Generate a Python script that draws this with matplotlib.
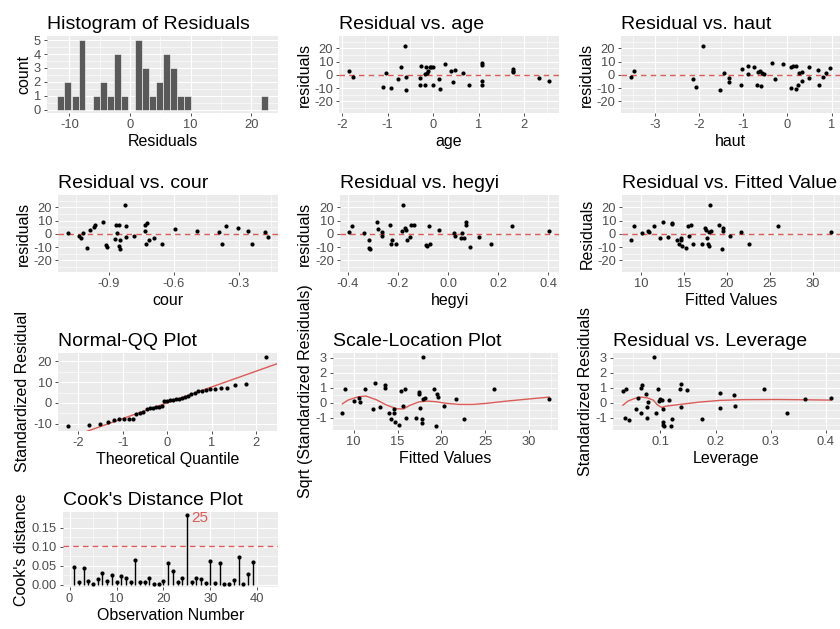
import statistics
import numpy as np
import matplotlib
matplotlib.use('Agg')
import matplotlib.pyplot as plt
from matplotlib.ticker import FixedLocator

plt.rcParams['font.family'] = ['Liberation Sans', 'DejaVu Sans']
plt.rcParams['axes.unicode_minus'] = False

residuals = [-11.4, -10.6, -10.1, -9.3, -8.4, -8.0, -7.9, -7.7, -7.6, -5.4,
             -4.8, -4.3, -3.0, -2.7, -2.4, -2.0, -1.8, -1.5, 0.9, 1.1,
             1.3, 1.5, 1.7, 2.0, 2.4, 2.8, 3.5, 4.3, 4.8, 5.6,
             5.9, 6.2, 6.5, 6.7, 7.0, 7.3, 8.5, 9.2, 22.1]

# residual vs age
age_x = [-1.84, -1.76, -1.10, -1.03, -0.92, -0.77, -0.70, -0.62, -0.59, -0.59,
         -0.29, -0.29, -0.26, -0.18, -0.17, -0.13, -0.15, -0.11, -0.07, -0.04,
         0.0, -0.01, 0.13, 0.16, 0.26, 0.40, 0.44, 0.49, 0.66, 0.78,
         1.07, 1.07, 1.07, 1.07, 1.75, 1.75, 1.76, 2.33, 2.55]
age_y = [3.25, -1.75, -9.5, 1.75, -9.75, -3, 6.25, 22, -1.75, -11.25,
         -2.5, -8, 6.75, -8, 0.75, 1.75, 5.75, 2.75, 5.75, 6.25,
         -7.75, 5.75, -3, -10.75, 8.5, 2.75, -5.5, 3.75, 1.75, -7.75,
         9.25, 7.25, -4.75, -7.75, 4.5, 2, 3.25, -2.5, -4.5]

# residual vs haut
haut_x = [-3.55, -3.48, -2.15, -2.08, -1.92, -1.53, -1.43, -1.32, -1.32, -1.06,
          -1.03, -0.89, -0.89, -0.75, -0.70, -0.66, -0.63, -0.60, -0.57, -0.52,
          -0.35, -0.28, -0.10, 0.07, 0.08, 0.13, 0.19, 0.19, 0.23, 0.26,
          0.32, 0.33, 0.48, 0.48, 0.69, 0.72, 0.81, 0.87, 0.97]
haut_y = [-1.75, 3.25, -3, -9.5, 22, -11.25, 1.25, -2.25, -5.25, -7.75,
          4.25, 6.75, 0.75, 6, -7.75, 2.25, 2.75, -8.25, 1.75, 0.75,
          9.25, -3, 8.5, -9.75, 5.75, 6.75, 6.5, -10.75, -8, 1.25,
          2, -5, 6.25, -2.75, 3.75, -8, -1.75, 1.75, 5.5]

# residual vs cour
cour_x = [-1.087, -1.037, -1.027, -1.018, -1.0, -0.987, -0.969, -0.963, -0.926, -0.911,
          -0.908, -0.871, -0.865, -0.862, -0.852, -0.852, -0.849, -0.846, -0.823, -0.822,
          -0.819, -0.785, -0.731, -0.731, -0.724, -0.730, -0.714, -0.693, -0.653, -0.593,
          -0.493, -0.392, -0.377, -0.358, -0.303, -0.256, -0.242, -0.182, -0.167]
cour_y = [1, -2, -3, 1, -10.5, 3.25, 5.5, 6.5, 9.25, -8.75,
          -9.75, -4.25, 6.75, 1, 6.75, -9.5, -5, -11.25, 22, -2.5,
          6, -1.75, 2.5, 7, 8, -8, -5, -3, -7.75, 3.75,
          2.5, 1.5, -7.5, 6, 4.25, 2, -7.75, 1.5, -2.5]

# residual vs hegyi
hegyi_x = [-0.394, -0.383, -0.336, -0.317, -0.314, -0.312, -0.285, -0.281, -0.264, -0.263,
           -0.232, -0.226, -0.222, -0.208, -0.184, -0.179, -0.171, -0.168, -0.163, -0.153,
           -0.149, -0.137, -0.089, -0.084, -0.078, -0.073, -0.037, 0.023, 0.028, 0.054,
           0.052, 0.065, 0.070, 0.073, 0.089, 0.123, 0.171, 0.253, 0.402]
hegyi_y = [1.75, 6, 1, -4.5, -10.5, -11.5, 9.25, 4, 1.75, -1.75,
           6.5, -7.5, -5, -7.75, 2.5, 22, 4.25, 3, -4.5, -2.5,
           7, 6.75, -8.5, -9.5, 6.25, -8, 3.25, 1, -1.75, 0.75,
           -3, -3, 8.75, 6.5, -10, -2.5, -7.75, 5.75, 2]

# residual vs fitted values
fitted_x = [8.80, 9.18, 10.12, 10.74, 10.89, 11.44, 12.21, 12.52, 13.07, 13.61,
            13.61, 14.16, 14.39, 14.62, 14.62, 14.78, 15.17, 15.40, 15.63, 15.86,
            16.02, 17.11, 17.46, 17.53, 17.65, 17.84, 17.88, 17.96, 18.04, 18.12,
            19.13, 19.44, 19.51, 19.59, 20.37, 21.61, 22.54, 25.92, 32.10]
fitted_y = [-4.5, 5.75, 1, 2, 1.25, 6.25, -3, 9.25, -2.5, 8.25,
            7.5, -5, -8, -3, -5, -9.5, -10.5, 5.75, -1.75, 6.5,
            -7.5, -7.75, 4.5, 3, -3, -7.5, -9.5, 1.5, 22, 2.5,
            6.5, -11.5, 4.25, 2.5, -2, 1.5, -8, 6, 1.5]

# scale-location
sl_x = [8.71, 9.05, 10.0, 10.61, 10.76, 11.29, 12.2, 12.4, 12.97, 13.54,
        13.57, 14.03, 14.30, 14.56, 14.68, 14.6, 15.13, 15.44, 15.63, 15.82,
        15.93, 17.07, 17.41, 17.45, 17.53, 17.83, 17.83, 17.91, 17.91, 18.1,
        19.13, 19.35, 19.54, 19.62, 20.27, 21.71, 22.55, 25.97, 32.28]
sl_y = [-0.71, 0.91, 0.13, 0.33, 0.07, 0.91, -0.4, 1.33, -0.31, 1.18,
        0.96, -0.67, -1.09, -0.71, -1.31, -0.44, -1.49, 0.78, -0.22, 0.91,
        -1.04, -1.04, 0.69, 0.56, -0.38, -1.09, -1.38, 3.07, 0.24, 0.33,
        0.91, -1.58, 0.56, 0.38, -0.22, 0.22, -1.09, 0.89, 0.24]
sl_smooth_x = [8.71, 9.35, 10.5, 11.4, 12.6, 13.7, 14.9, 15.7, 16.4, 17.5,
               18.5, 19.4, 20.6, 22.1, 23.6, 25.1, 27.4, 29.7, 32.3]
sl_smooth_y = [-0.07, 0.18, 0.40, 0.45, 0.20, -0.14, -0.40, -0.41, -0.17, 0.07,
               0.11, 0.07, -0.04, -0.11, -0.11, -0.04, 0.11, 0.24, 0.38]

# residual vs leverage
lev_x = [0.032, 0.038, 0.036, 0.043, 0.056, 0.059, 0.064, 0.067, 0.065, 0.075,
         0.073, 0.076, 0.078, 0.088, 0.092, 0.096, 0.098, 0.100, 0.102, 0.105,
         0.105, 0.105, 0.106, 0.115, 0.119, 0.121, 0.136, 0.137, 0.138, 0.149,
         0.176, 0.208, 0.209, 0.233, 0.235, 0.288, 0.329, 0.362, 0.409]
lev_y = [0.8, 0.91, -1.04, -1.13, -0.4, 0.33, 0.96, 1.18, -0.67, -1.04,
         0.56, -0.31, 0.07, 3.07, -0.71, 0.93, 0.13, 0.22, 0.18, -0.42,
         -1.31, -1.49, -1.58, 0.16, -1.53, -1.11, 0.91, 1.29, -0.27, 0.87,
         -1.11, 0.67, -0.36, 0.51, -0.24, 0.89, -0.71, 0.24, 0.33]
lev_smooth_x = [0.032, 0.041, 0.053, 0.065, 0.076, 0.087, 0.094, 0.102, 0.111, 0.135,
                0.172, 0.208, 0.25, 0.311, 0.365, 0.409]
lev_smooth_y = [-0.16, 0.11, 0.29, 0.38, 0.33, 0.18, -0.12, -0.31, -0.22, -0.11,
                0.05, 0.16, 0.21, 0.22, 0.20, 0.18]

# cook's distance per observation
cooks = [0.046, 0.007, 0.045, 0.009, 0.003, 0.015, 0.030, 0.009, 0.026, 0.006,
         0.022, 0.019, 0.008, 0.064, 0.006, 0.006, 0.019, 0.003, 0.003, 0.009,
         0.057, 0.037, 0.006, 0.017, 0.183, 0.006, 0.019, 0.015, 0.004, 0.063,
         0.004, 0.057, 0.003, 0.003, 0.013, 0.072, 0.003, 0.029, 0.059]

RED = '#DA5B57'
BG = '#EBEBEB'
TICK_COL = '#4D4D4D'

fig = plt.figure(figsize=(8.4, 6.29), dpi=100)
W, H = 840.0, 629.0


def panel(x0, y0, x1, y1):
    return fig.add_axes([x0 / W, 1 - y1 / H, (x1 - x0) / W, (y1 - y0) / H])


def style(ax, title, xlabel, ylabel, xt, xl, yt, yl, xlim, ylim):
    ax.set_facecolor(BG)
    for s in ax.spines.values():
        s.set_visible(False)
    ax.set_xlim(xlim)
    ax.set_ylim(ylim)
    ax.xaxis.set_major_locator(FixedLocator(xt))
    ax.set_xticklabels(xl)
    ax.yaxis.set_major_locator(FixedLocator(yt))
    ax.set_yticklabels(yl)
    # minor grid halfway between the major breaks
    xm = [(a + b) / 2 for a, b in zip(xt[:-1], xt[1:])]
    step = xt[1] - xt[0]
    xm = [xt[0] - step / 2] + xm + [xt[-1] + step / 2]
    ym = [(a + b) / 2 for a, b in zip(yt[:-1], yt[1:])]
    step = yt[1] - yt[0]
    ym = [yt[0] - step / 2] + ym + [yt[-1] + step / 2]
    ax.xaxis.set_minor_locator(FixedLocator(xm))
    ax.yaxis.set_minor_locator(FixedLocator(ym))
    ax.grid(which='major', color='white', linewidth=0.85)
    ax.grid(which='minor', color='white', linewidth=0.4)
    ax.set_axisbelow(True)
    ax.tick_params(which='major', length=2.5, width=0.6, color='#333333',
                   labelsize=9.3, labelcolor=TICK_COL, pad=1.8)
    ax.tick_params(which='minor', length=0)
    ax.set_title(title, loc='left', fontsize=14, pad=5)
    ax.set_xlabel(xlabel, fontsize=11.5, labelpad=2)
    ax.set_ylabel(ylabel, fontsize=11.5, labelpad=2)


def hline(ax, y):
    ax.axhline(y, color=RED, linestyle=(0, (4, 3)), linewidth=1.0, zorder=2)


def dots(ax, x, y):
    ax.scatter(x, y, s=9, color='black', zorder=3, linewidths=0)


res_ticks = [-20, -10, 0, 10, 20]
res_labels = ['-20', '-10', '0', '10', '20']
res_lim = (-28.7, 29.2)

# 1. histogram
ax = panel(47, 36, 278, 113)
r = np.array(residuals)
bw = (r.max() - r.min()) / 29
edges = r.min() - bw / 2 + bw * np.arange(31)
ax.hist(r, bins=edges, color='#595959', edgecolor='white', linewidth=0.4, zorder=3)
span = edges[-1] - edges[0]
style(ax, 'Histogram of Residuals', 'Residuals', 'count',
      [-10, 0, 10, 20], ['-10', '0', '10', '20'],
      [0, 1, 2, 3, 4, 5], ['0', '1', '2', '3', '4', '5'],
      (edges[0] - 0.05 * span, edges[-1] + 0.05 * span), (-0.25, 5.3))

# 2. age
ax = panel(339, 36, 559, 113)
hline(ax, 0)
dots(ax, age_x, age_y)
style(ax, 'Residual vs. age', 'age', 'residuals',
      [-2, -1, 0, 1, 2], ['-2', '-1', '0', '1', '2'],
      res_ticks, res_labels, (-2.07, 2.77), res_lim)

# 3. haut
ax = panel(621, 36, 840, 113)
hline(ax, 0)
dots(ax, haut_x, haut_y)
style(ax, 'Residual vs. haut', 'haut', 'residuals',
      [-3, -2, -1, 0, 1], ['-3', '-2', '-1', '0', '1'],
      res_ticks, res_labels, (-3.77, 1.19), res_lim)

# 4. cour
ax = panel(58, 195, 278, 272)
hline(ax, 0)
dots(ax, cour_x, cour_y)
style(ax, 'Residual vs. cour', 'cour', 'residuals',
      [-0.9, -0.6, -0.3], ['-0.9', '-0.6', '-0.3'],
      res_ticks, res_labels, (-1.133, -0.12), res_lim)

# 5. hegyi
ax = panel(340, 195, 559, 272)
hline(ax, 0)
dots(ax, hegyi_x, hegyi_y)
style(ax, 'Residual vs. hegyi', 'hegyi', 'residuals',
      [-0.4, -0.2, 0.0, 0.2, 0.4], ['-0.4', '-0.2', '0.0', '0.2', '0.4'],
      res_ticks, res_labels, (-0.431, 0.442), res_lim)

# 6. fitted
ax = panel(622, 195, 840, 272)
hline(ax, 0)
dots(ax, fitted_x, fitted_y)
style(ax, 'Residual vs. Fitted Value', 'Fitted Values', 'Residuals',
      [10, 15, 20, 25, 30], ['10', '15', '20', '25', '30'],
      res_ticks, res_labels, (7.75, 33.2), res_lim)

# 7. normal QQ
ax = panel(58, 353, 277, 431)
n = len(r)
nd = statistics.NormalDist()
theo = [nd.inv_cdf((i - 0.5) / n) for i in range(1, n + 1)]
q1, q3 = np.percentile(r, [25, 75])
z1, z3 = nd.inv_cdf(0.25), nd.inv_cdf(0.75)
slope = (q3 - q1) / (z3 - z1)
icpt = q1 - slope * z1
lx = np.array([-2.46, 2.47])
ax.plot(lx, icpt + slope * lx, color=RED, linewidth=1.0, zorder=2)
dots(ax, theo, np.sort(r))
style(ax, 'Normal-QQ Plot', 'Theoretical Quantile', 'Standardized Residual',
      [-2, -1, 0, 1, 2], ['-2', '-1', '0', '1', '2'],
      [-10, 0, 10, 20], ['-10', '0', '10', '20'], (-2.46, 2.47), (-13.6, 24.1))

# 8. scale-location
ax = panel(333, 353, 558, 430)
ax.plot(sl_smooth_x, sl_smooth_y, color=RED, linewidth=1.0, zorder=2)
dots(ax, sl_x, sl_y)
style(ax, 'Scale-Location Plot', 'Fitted Values', 'Sqrt (Standardized Residuals)',
      [10, 15, 20, 25, 30], ['10', '15', '20', '25', '30'],
      [-1, 0, 1, 2, 3], ['-1', '0', '1', '2', '3'], (7.64, 33.3), (-1.82, 3.33))

# 9. leverage
ax = panel(613, 353, 840, 430)
ax.plot(lev_smooth_x, lev_smooth_y, color=RED, linewidth=1.0, zorder=2)
dots(ax, lev_x, lev_y)
style(ax, 'Residual vs. Leverage', 'Leverage', 'Standardized Residuals',
      [0.1, 0.2, 0.3, 0.4], ['0.1', '0.2', '0.3', '0.4'],
      [-1, 0, 1, 2, 3], ['-1', '0', '1', '2', '3'], (0.0139, 0.426), (-1.82, 3.33))

# 10. cook's distance
ax = panel(63, 512, 278, 587)
obs = np.arange(1, len(cooks) + 1)
thr = 4 / len(cooks)
hline(ax, thr)
ax.vlines(obs, 0, cooks, color='black', linewidth=1.0, zorder=3)
dots(ax, obs, cooks)
top = int(np.argmax(cooks))
ax.annotate(str(obs[top]), (obs[top], cooks[top]), xytext=(3, -2),
            textcoords='offset points', color=RED, fontsize=11, va='center')
style(ax, "Cook's Distance Plot", 'Observation Number', "Cook's distance",
      [0, 10, 20, 30, 40], ['0', '10', '20', '30', '40'],
      [0.0, 0.05, 0.10, 0.15], ['0.00', '0.05', '0.10', '0.15'], (-1.4, 44.4), (-0.006, 0.192))

fig.savefig('out.png', dpi=100)
